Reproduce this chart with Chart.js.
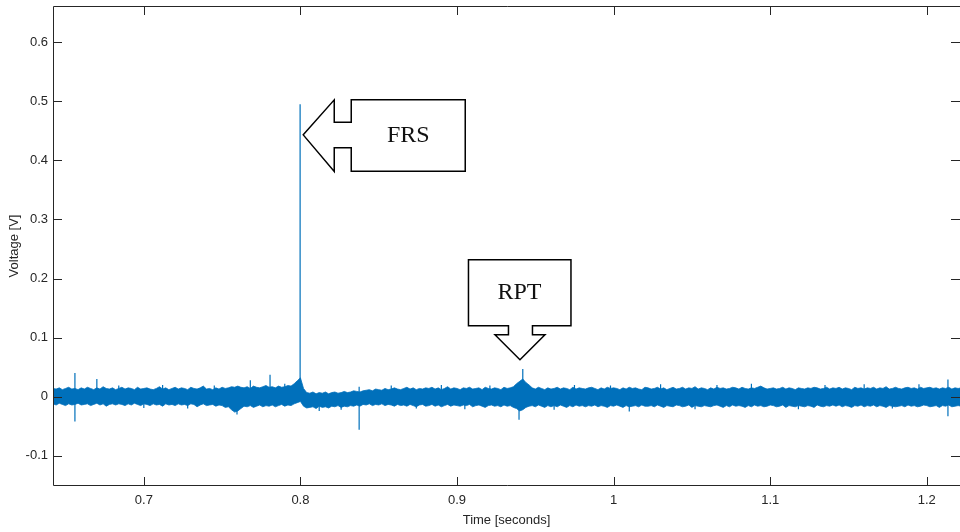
<!DOCTYPE html>
<html>
<head>
<meta charset="utf-8">
<title>Voltage trace</title>
<script src="https://cdn.jsdelivr.net/npm/chart.js@4.4.1/dist/chart.umd.min.js"></script>
<style>
  html, body { margin: 0; padding: 0; background: #fff; }
  #plot { display: block; }
</style>
</head>
<body>
<canvas id="plot" width="960" height="532"></canvas>
<script>
/* ===== DATA ===== */
const T_START = 0.642;   // s, first envelope sample
const T_STEP  = 0.002;   // s, envelope sample spacing

// upper edge of the noise band (mV), one value per T_STEP
const upperMv = [
  14,13,15,12,14,16,13,14,12,15,  13,16,14,12,15,13,17,14,13,15,
  12,14,16,13,15,14,12,16,13,14,  15,13,12,14,17,13,15,12,14,16,
  13,15,14,12,16,14,13,15,18,13,  14,12,15,13,16,14,15,17,16,18,
  16,15,17,14,18,16,15,17,19,16,  17,15,18,16,17,19,18,22,27,32,
  14,7,6,8,5,7,6,8,5,7,           8,6,7,9,7,8,10,9,8,10,
  11,12,10,13,12,11,14,12,13,15,  13,12,14,16,13,15,12,14,13,15,
  14,16,13,15,12,14,17,13,15,14,  12,15,14,16,13,14,15,12,16,14,
  13,15,14,12,16,14,15,17,22,26,  30,24,20,15,13,16,14,12,15,13,
  14,16,13,15,14,12,16,13,15,14,  13,15,16,14,12,15,13,16,14,15,
  14,12,15,13,16,14,15,13,12,16,  15,13,14,16,13,15,12,14,16,13,
  14,16,13,15,14,17,13,15,14,12,  15,13,16,14,15,13,14,16,15,13,
  16,14,13,15,14,16,18,15,13,14,  15,13,14,16,13,15,14,12,15,14,
  13,15,14,16,15,13,14,16,13,15,  14,16,13,15,14,12,16,14,15,13,
  15,14,16,13,15,14,17,13,14,16,  14,13,15,16,14,15,13,16,14,15,
  16,14,15,13,15,14,16,13,15,14,  15
];
// lower edge of the noise band (mV)
const lowerMv = [
  -12,-14,-11,-13,-15,-12,-14,-13,-11,-14,  -13,-12,-15,-13,-11,-14,-12,-16,-13,-12,
  -14,-12,-13,-15,-12,-14,-11,-13,-15,-12,  -13,-15,-12,-14,-13,-16,-12,-14,-13,-15,
  -12,-14,-13,-15,-12,-13,-17,-14,-12,-15,  -14,-13,-16,-14,-15,-18,-17,-22,-26,-24,
  -20,-16,-17,-15,-18,-16,-14,-17,-15,-16,  -14,-17,-15,-13,-16,-14,-15,-12,-10,-8,
  -16,-19,-18,-17,-20,-16,-18,-17,-19,-16,  -17,-15,-18,-16,-17,-15,-16,-14,-16,-13,
  -14,-12,-15,-13,-14,-12,-15,-13,-14,-16,  -13,-15,-14,-16,-13,-15,-17,-14,-13,-16,
  -15,-13,-16,-14,-17,-15,-13,-16,-14,-15,  -16,-14,-15,-13,-17,-15,-14,-16,-18,-15,
  -14,-16,-15,-17,-14,-16,-15,-18,-20,-24,  -22,-18,-16,-15,-17,-14,-16,-18,-15,-17,
  -15,-17,-14,-16,-18,-15,-17,-14,-16,-15,  -17,-15,-16,-14,-17,-15,-16,-18,-15,-16,
  -14,-16,-18,-15,-17,-16,-15,-17,-14,-16,  -16,-15,-17,-14,-16,-18,-15,-16,-17,-14,
  -15,-17,-16,-14,-18,-15,-16,-17,-15,-16,  -17,-15,-14,-16,-18,-15,-17,-14,-16,-15,
  -16,-18,-15,-17,-14,-16,-15,-17,-16,-14,  -15,-17,-16,-14,-18,-15,-16,-17,-15,-16,
  -17,-15,-16,-18,-14,-16,-17,-15,-16,-14,  -16,-14,-17,-15,-16,-18,-15,-16,-14,-17,
  -15,-16,-14,-17,-15,-16,-18,-15,-16,-17,  -16,-15,-17,-14,-16,-15,-17,-16,-14,-15,
  -17,-16,-15,-18,-15,-16,-14,-17,-16,-15,  -16
];

// narrow transients and hairs (s, mV)
const spikeTimes = [
  0.6560, 0.6700, 0.6840, 0.7000, 0.7120, 0.7280, 0.7450, 0.7595, 0.7680, 0.7806,
  0.7900, 0.7998, 0.8120, 0.8260, 0.8375, 0.8580, 0.8740, 0.8900, 0.9050, 0.9210,
  0.9396, 0.9420, 0.9620, 0.9750, 0.9980, 1.0100, 1.0300, 1.0520, 1.0660, 1.0880,
  1.1180, 1.1350, 1.1600, 1.1780, 1.1950, 1.2135
];
const spikeTopMv = [
  40, 30, 19, 0, 20, 0, 19, 10, 28, 37,
  22, 495, 0, 0, 17, 19, 0, 20, 0, 19,
  20, 47, 0, 20, 19, 10, 21, 0, 20, 22,
  0, 20, 21, 0, 21, 29
];
const spikeBotMv = [
  -42, -8, 0, -19, 0, -20, 0, -30, -5, -5,
  0, -5, -24, -22, -56, 0, -20, 0, -21, 0,
  -39, -10, -22, 0, 0, -25, 0, -21, 0, 0,
  -21, 0, 0, -20, 0, -33
];

const xTicks = [0.7, 0.8, 0.9, 1, 1.1, 1.2];
const yTicks = [-0.1, 0, 0.1, 0.2, 0.3, 0.4, 0.5, 0.6];
const xRange = [0.642, 1.2212];
const yRange = [-0.151, 0.661];

// block-arrow callouts, tip position in data units
const calloutLabels = ['FRS', 'RPT'];
const calloutTimes  = [0.8018, 0.9402];
const calloutVolts  = [0.443, 0.0626];
const calloutDirs   = ['left', 'down'];

/* ===== BUILD ===== */
const BLUE = '#0070BB';
const AXIS = '#262626';
const SANS = "'Liberation Sans', Arial, Helvetica, sans-serif";

const times = upperMv.map((_, i) => +(T_START + i * T_STEP).toFixed(4));
const toV = mv => mv / 1000;
const upperPts = upperMv.map((v, i) => ({ x: times[i], y: toV(v) }));
const lowerPts = lowerMv.map((v, i) => ({ x: times[i], y: toV(v) }));
const spikePts = [];
spikeTimes.forEach((t, i) => {
  spikePts.push({ x: t, y: toV(spikeBotMv[i]) }, { x: t, y: toV(spikeTopMv[i]) }, { x: t, y: null });
});

/* ===== AXES BOX + INWARD TICKS (matlab look) ===== */
const matlabAxes = {
  id: 'matlabAxes',
  afterDatasetsDraw(chart) {
    const { ctx, chartArea: a, scales: { x, y } } = chart;
    const TL = 9;
    ctx.save();
    ctx.strokeStyle = AXIS;
    ctx.lineWidth = 1;
    ctx.beginPath();
    // right edge of the box falls just outside the picture
    ctx.rect(a.left + .5, a.top + .5, a.right - a.left + 1, a.bottom - a.top - 1);
    xTicks.forEach(v => {
      const px = Math.round(x.getPixelForValue(v)) + .5;
      ctx.moveTo(px, a.bottom); ctx.lineTo(px, a.bottom - TL);
      ctx.moveTo(px, a.top);    ctx.lineTo(px, a.top + TL);
    });
    yTicks.forEach(v => {
      const py = Math.round(y.getPixelForValue(v)) + .5;
      ctx.moveTo(a.left, py);  ctx.lineTo(a.left + TL, py);
      ctx.moveTo(a.right, py); ctx.lineTo(a.right - TL, py);
    });
    ctx.stroke();
    ctx.restore();
  }
};

/* ===== CALLOUTS ===== */
function calloutPath(ctx, tx, ty, dir) {
  // shape measured in px from the tip
  if (dir === 'left') {
    const pts = [[0,0],[31,-35],[31,-12.5],[48,-12.5],[48,-35],[162,-35],[162,36.5],[48,36.5],[48,13],[31,13],[31,36.5]];
    ctx.beginPath();
    pts.forEach(([dx, dy], i) => i ? ctx.lineTo(tx + dx, ty + dy) : ctx.moveTo(tx + dx, ty + dy));
    ctx.closePath();
    return { cx: tx + 105, cy: ty + 1 };
  }
  const pts = [[0,0],[25,-25],[12.5,-25],[12.5,-34],[51,-34],[51,-100],[-51.5,-100],[-51.5,-34],[-11.5,-34],[-11.5,-25],[-25,-25]];
  ctx.beginPath();
  pts.forEach(([dx, dy], i) => i ? ctx.lineTo(tx + dx, ty + dy) : ctx.moveTo(tx + dx, ty + dy));
  ctx.closePath();
  return { cx: tx - 0.5, cy: ty - 67 };
}

const callouts = {
  id: 'callouts',
  afterDraw(chart) {
    const { ctx, scales: { x, y } } = chart;
    ctx.save();
    calloutLabels.forEach((label, i) => {
      const tx = x.getPixelForValue(calloutTimes[i]);
      const ty = y.getPixelForValue(calloutVolts[i]);
      const c = calloutPath(ctx, tx, ty, calloutDirs[i]);
      ctx.fillStyle = '#fff';
      ctx.fill();
      ctx.strokeStyle = '#000';
      ctx.lineWidth = 1.5;
      ctx.lineJoin = 'miter';
      ctx.stroke();
      ctx.fillStyle = '#111';
      ctx.font = "24px 'Liberation Serif', 'Times New Roman', serif";
      ctx.textAlign = 'center';
      ctx.textBaseline = 'middle';
      ctx.fillText(label, c.cx, c.cy);
    });
    ctx.restore();
  }
};

/* ===== CHART ===== */
new Chart(document.getElementById('plot'), {
  type: 'line',
  data: {
    datasets: [
      { data: upperPts, borderColor: BLUE, backgroundColor: BLUE, borderWidth: 0.8, fill: '+1' },
      { data: lowerPts, borderColor: BLUE, backgroundColor: BLUE, borderWidth: 0.8, fill: false },
      { data: spikePts, borderColor: BLUE, borderWidth: 1.2, fill: false, spanGaps: false }
    ]
  },
  options: {
    responsive: false,
    animation: false,
    events: [],
    layout: { padding: { top: 6, right: 0, left: 0, bottom: 0 } },
    elements: { point: { radius: 0 }, line: { tension: 0 } },
    plugins: { legend: { display: false }, tooltip: { enabled: false } },
    scales: {
      x: {
        type: 'linear', min: xRange[0], max: xRange[1],
        grid: { display: false, drawTicks: false }, border: { display: false },
        afterBuildTicks: s => { s.ticks = xTicks.map(v => ({ value: v })); },
        afterFit: s => { s.height = 46; s.paddingLeft = 0; s.paddingRight = 0; },
        ticks: { padding: 7, color: AXIS, maxRotation: 0, autoSkip: false, font: { family: SANS, size: 13 }, callback: v => String(v) },
        title: { display: true, text: 'Time [seconds]', color: AXIS, font: { family: SANS, size: 13 }, padding: { top: 0, bottom: 4 } }
      },
      y: {
        type: 'linear', min: yRange[0], max: yRange[1],
        grid: { display: false, drawTicks: false }, border: { display: false },
        afterBuildTicks: s => { s.ticks = yTicks.map(v => ({ value: v })); },
        afterFit: s => { s.width = 53; s.paddingTop = 0; s.paddingBottom = 0; },
        ticks: { padding: 5, color: AXIS, autoSkip: false, font: { family: SANS, size: 13 }, callback: v => String(v) },
        title: { display: true, text: 'Voltage [V]', color: AXIS, font: { family: SANS, size: 13 }, padding: { top: 7, bottom: 0 } }
      }
    }
  },
  plugins: [matlabAxes, callouts]
});
</script>
</body>
</html>
